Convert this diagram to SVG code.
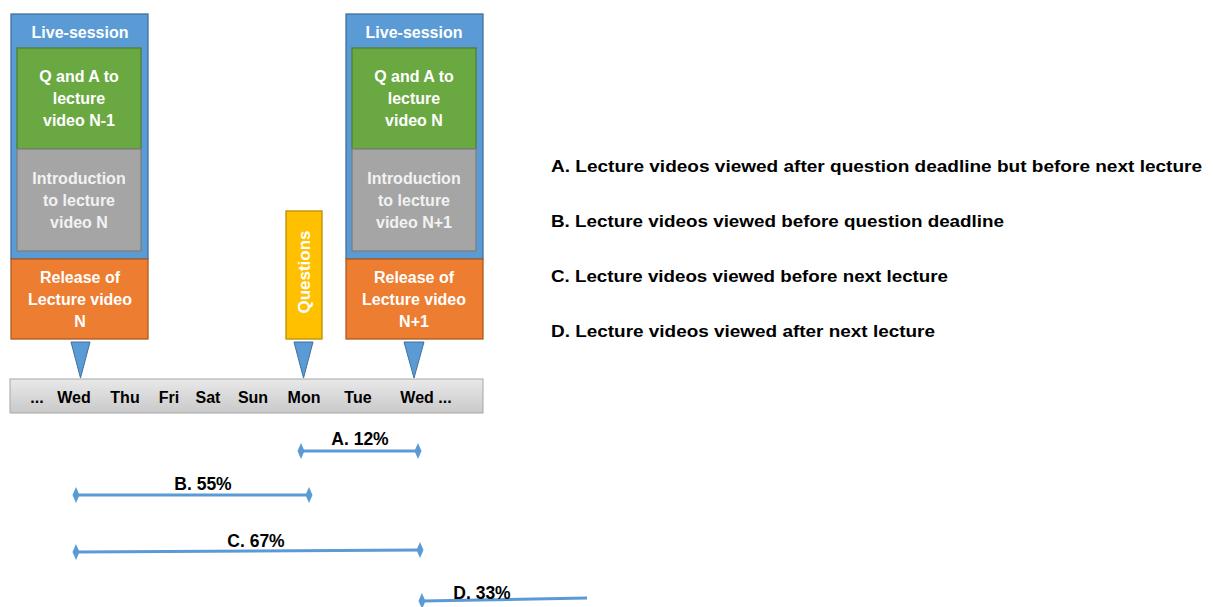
<svg xmlns="http://www.w3.org/2000/svg" width="1213" height="607" viewBox="0 0 1213 607">
<style>
text{font-family:"Liberation Sans",Arial,sans-serif;font-weight:bold}
.w{fill:#fff;font-size:16px;text-anchor:middle}
.g{fill:#f2f2f2;font-size:16px;text-anchor:middle}
.d{fill:#000;font-size:16px;text-anchor:middle}
.lbl{fill:#000;font-size:17.5px;text-anchor:middle}
.leg{fill:#000;font-size:17px}
.blue{fill:#5B9BD5;stroke:#41719C;stroke-width:1.3}
.green{fill:#6AA842;stroke:#507E32;stroke-width:1.3}
.gray{fill:#A5A5A5;stroke:#7F7F7F;stroke-width:1.3}
.orange{fill:#ED7D31;stroke:#AE5A21;stroke-width:1.3}
.yellow{fill:#FFC000;stroke:#BC8C00;stroke-width:1.3}
.tri{fill:#5B9BD5;stroke:#41719C;stroke-width:1}
.ln{stroke:#5B9BD5;stroke-width:3;fill:none;marker-start:url(#dm);marker-end:url(#dm)}
</style>
<defs>
<linearGradient id="bar" x1="0" y1="0" x2="0" y2="1">
<stop offset="0" stop-color="#e9e9e9"/>
<stop offset="1" stop-color="#c9c9c9"/>
</linearGradient>
<marker id="dm" viewBox="-4 -9 8 18" markerWidth="8" markerHeight="18" refX="0" refY="0" markerUnits="userSpaceOnUse" orient="auto">
<path d="M0,-8 L3.5,0 L0,8 L-3.5,0 Z" fill="#5B9BD5"/>
</marker>
</defs>
<g id="session-left">
<rect class="blue" x="11" y="14" width="137" height="245"/>
<text class="w" x="80" y="38">Live-session</text>
<rect class="green" x="17" y="48" width="124" height="101"/>
<text class="w" x="79" y="82">Q and A to</text>
<text class="w" x="79" y="104">lecture</text>
<text class="w" x="79" y="126">video N-1</text>
<rect class="gray" x="17" y="149" width="124" height="102"/>
<text class="g" x="79" y="184">Introduction</text>
<text class="g" x="79" y="206">to lecture</text>
<text class="g" x="79" y="228">video N</text>
</g>
<g id="release-left">
<rect class="orange" x="11" y="259" width="137" height="80"/>
<text class="w" x="80" y="283">Release of</text>
<text class="w" x="80" y="305">Lecture video</text>
<text class="w" x="80" y="327">N</text>
</g>
<g id="session-right">
<rect class="blue" x="346" y="14" width="137" height="245"/>
<text class="w" x="414" y="38">Live-session</text>
<rect class="green" x="352" y="48" width="124" height="101"/>
<text class="w" x="414" y="82">Q and A to</text>
<text class="w" x="414" y="104">lecture</text>
<text class="w" x="414" y="126">video N</text>
<rect class="gray" x="352" y="149" width="124" height="102"/>
<text class="g" x="414" y="184">Introduction</text>
<text class="g" x="414" y="206">to lecture</text>
<text class="g" x="414" y="228">video N+1</text>
</g>
<g id="release-right">
<rect class="orange" x="346" y="259" width="137" height="80"/>
<text class="w" x="414" y="283">Release of</text>
<text class="w" x="414" y="305">Lecture video</text>
<text class="w" x="414" y="327">N+1</text>
</g>
<g id="questions">
<rect class="yellow" x="286" y="211" width="36" height="128"/>
<text class="w" transform="translate(310,272) rotate(-90)" x="0" y="0" style="font-size:17px">Questions</text>
</g>
<g id="timeline">
<rect x="10" y="379" width="473" height="34" fill="url(#bar)" stroke="#a6a6a6" stroke-width="1"/>
<text class="d" x="37" y="403">...</text>
<text class="d" x="74" y="403">Wed</text>
<text class="d" x="125" y="403">Thu</text>
<text class="d" x="169" y="403">Fri</text>
<text class="d" x="208" y="403">Sat</text>
<text class="d" x="253" y="403">Sun</text>
<text class="d" x="304" y="403">Mon</text>
<text class="d" x="358" y="403">Tue</text>
<text class="d" x="426" y="403">Wed ...</text>
</g>
<g id="connectors">
<path class="tri" d="M71,342 L90,342 L80.5,378 Z"/>
<path class="tri" d="M294,342 L313,342 L303.5,378 Z"/>
<path class="tri" d="M404,342 L424,342 L414,378 Z"/>
<path class="ln" d="M301,451 L418,451"/>
<path class="ln" d="M76,495 L309,495"/>
<path class="ln" d="M76,552 L420,550"/>
<path class="ln" d="M422,601 L587,598" style="marker-end:none"/>
</g>
<g id="range-labels">
<text class="lbl" x="360" y="445">A. 12%</text>
<text class="lbl" x="203" y="490">B. 55%</text>
<text class="lbl" x="256" y="547">C. 67%</text>
<text class="lbl" x="482" y="599">D. 33%</text>
</g>
<g id="legend">
<text class="leg" x="551" y="172" textLength="651" lengthAdjust="spacingAndGlyphs">A. Lecture videos viewed after question deadline but before next lecture</text>
<text class="leg" x="551" y="227" textLength="453" lengthAdjust="spacingAndGlyphs">B. Lecture videos viewed before question deadline</text>
<text class="leg" x="551" y="282" textLength="397" lengthAdjust="spacingAndGlyphs">C. Lecture videos viewed before next lecture</text>
<text class="leg" x="551" y="337" textLength="384" lengthAdjust="spacingAndGlyphs">D. Lecture videos viewed after next lecture</text>
</g>
</svg>
